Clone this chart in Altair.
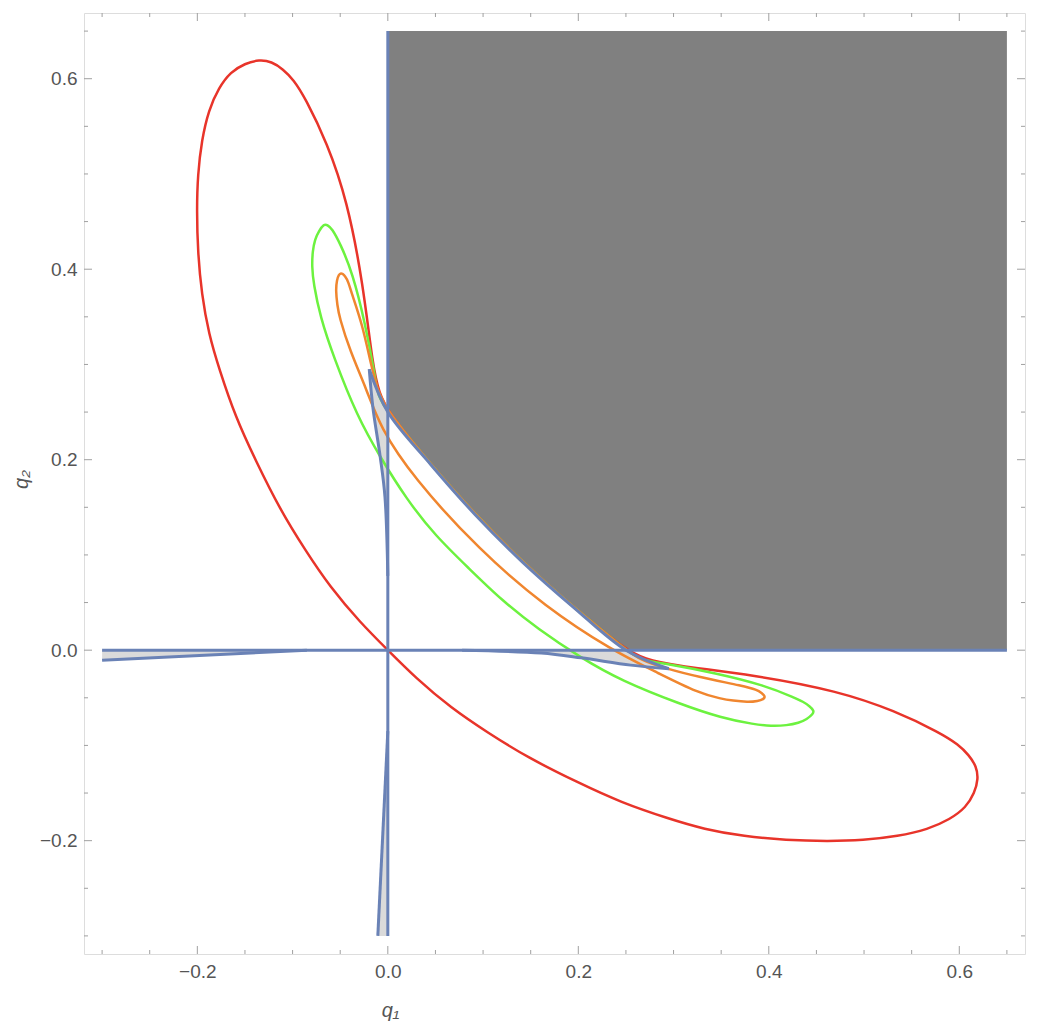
import altair as alt
import pandas as pd

# ---------------- data ----------------
# boundary of the dark region (shared by the inner arcs of the three loops)
BOUND_X = [-0.0195, 0.0, 0.045, 0.092, 0.142, 0.195, 0.25, 0.295]
BOUND_Y = [0.295, 0.25, 0.195, 0.142, 0.092, 0.045, 0.0, -0.0195]

RED_X = [0.0, -0.0293, -0.0606, -0.0867, -0.1129, -0.1390, -0.1599, -0.1770, -0.1880, -0.1955,
         -0.1995, -0.2006, -0.1996, -0.1954, -0.1881, -0.1776, -0.1651, -0.1500, -0.135, -0.1220,
         -0.1100, -0.0990, -0.0867, -0.0637, -0.0428, -0.026, -0.0157, -0.009, 0.0,
         0.045, 0.092, 0.142, 0.195, 0.25,
         0.270, 0.2973, 0.385, 0.4727, 0.5326, 0.5798, 0.5990, 0.6100, 0.6180, 0.620, 0.6160,
         0.6071, 0.5903, 0.5672, 0.5357, 0.4989, 0.4622, 0.4180, 0.3740, 0.3320, 0.2950, 0.2447,
         0.1996, 0.1471, 0.1050, 0.0662, 0.0294]
RED_Y = [0.0, 0.0294, 0.0662, 0.1050, 0.1471, 0.1996, 0.2447, 0.2950, 0.3320, 0.3740,
         0.4180, 0.4622, 0.4989, 0.5357, 0.5672, 0.5903, 0.6071, 0.6160, 0.620, 0.6180,
         0.6100, 0.5990, 0.5798, 0.5326, 0.4727, 0.385, 0.2973, 0.270, 0.25,
         0.195, 0.142, 0.092, 0.045, 0.0,
         -0.009, -0.0157, -0.026, -0.0428, -0.0637, -0.0867, -0.0990, -0.1100, -0.1220, -0.135, -0.1500,
         -0.1651, -0.1776, -0.1881, -0.1954, -0.1996, -0.2006, -0.1995, -0.1955, -0.1880, -0.1770, -0.1599,
         -0.1390, -0.1129, -0.0867, -0.0606, -0.0293]

GREEN_X = [-0.067, -0.0725, -0.0765, -0.0790, -0.0797, -0.078, -0.071, -0.057, -0.032, -0.008, 0.020,
           0.050, 0.085, 0.120, 0.158, 0.2027, 0.245, 0.308, 0.350, 0.385, 0.4026, 0.4190, 0.4315,
           0.4400, 0.4465, 0.4475, 0.443, 0.436, 0.427, 0.396, 0.344, 0.291, 0.266, 0.25, 0.195, 0.142,
           0.092, 0.045, 0.0, -0.0105, -0.014, -0.024, -0.037, -0.050, -0.0588, -0.0635]
GREEN_Y = [0.4475, 0.4400, 0.4315, 0.4190, 0.4026, 0.385, 0.350, 0.308, 0.245, 0.2027, 0.158,
           0.120, 0.086, 0.052, 0.022, -0.008, -0.032, -0.057, -0.071, -0.078, -0.0797, -0.0790, -0.0765,
           -0.0725, -0.067, -0.0635, -0.0588, -0.054, -0.050, -0.037, -0.024, -0.014, -0.0105, 0.0, 0.045, 0.092,
           0.142, 0.195, 0.25, 0.266, 0.291, 0.344, 0.396, 0.427, 0.443, 0.4465]

ORANGE_X = [-0.049, -0.0515, -0.0535, -0.0547, -0.053, -0.051, -0.040, -0.022, -0.008, 0.026, 0.096,
            0.166, 0.235, 0.284, 0.326, 0.350, 0.362, 0.378, 0.3887, 0.3945, 0.396, 0.3950, 0.393,
            0.387, 0.3747, 0.326, 0.291, 0.266, 0.25, 0.195, 0.142, 0.092, 0.045, 0.0, -0.0105,
            -0.017, -0.027, -0.038, -0.0415, -0.045, -0.0475]
ORANGE_Y = [0.396, 0.3945, 0.3887, 0.378, 0.362, 0.350, 0.315, 0.273, 0.234, 0.182, 0.105,
            0.045, 0.0, -0.024, -0.045, -0.051, -0.053, -0.0547, -0.0535, -0.0515, -0.049, -0.0475, -0.045,
            -0.0415, -0.038, -0.028, -0.019, -0.0105, 0.0, 0.045, 0.092, 0.142, 0.195, 0.25, 0.272,
            0.297, 0.343, 0.3747, 0.387, 0.393, 0.3950]

GRAY_X = [0.0, 0.0, 0.65, 0.65, 0.25, 0.195, 0.142, 0.092, 0.045]
GRAY_Y = [0.25, 0.65, 0.65, 0.0, 0.0, 0.045, 0.092, 0.142, 0.195]

WEDGE_UP_X = [0.0, 0.0, -0.0195, -0.0157, -0.008, -0.003]
WEDGE_UP_Y = [0.078, 0.25, 0.295, 0.255, 0.203, 0.161]
WEDGE_RIGHT_X = [0.078, 0.25, 0.295, 0.255, 0.203, 0.161]
WEDGE_RIGHT_Y = [0.0, 0.0, -0.0195, -0.0157, -0.008, -0.003]
WEDGE_LEFT_X = [-0.3, -0.085, -0.3]
WEDGE_LEFT_Y = [0.0, 0.0, -0.0105]
WEDGE_DOWN_X = [0.0, 0.0, -0.0105]
WEDGE_DOWN_Y = [-0.3, -0.085, -0.3]

AXH_X = [-0.3, 0.65]
AXH_Y = [0.0, 0.0]
AXV_X = [0.0, 0.0]
AXV_Y = [-0.3, 0.65]
EDGE_UP_X = [-0.0195, -0.0157, -0.008, -0.003, 0.0]
EDGE_UP_Y = [0.295, 0.255, 0.203, 0.161, 0.078]
EDGE_RIGHT_X = [0.295, 0.255, 0.203, 0.161, 0.078]
EDGE_RIGHT_Y = [-0.0195, -0.0157, -0.008, -0.003, 0.0]
EDGE_LEFT_X = [-0.3, -0.085]
EDGE_LEFT_Y = [-0.0105, 0.0]
EDGE_DOWN_X = [-0.0105, 0.0]
EDGE_DOWN_Y = [-0.3, -0.085]

MAJOR_TICKS = [-0.2, 0.0, 0.2, 0.4, 0.6]
MINOR_TICKS = [-0.3, -0.25, -0.15, -0.1, -0.05, 0.05, 0.1, 0.15, 0.25, 0.3, 0.35,
               0.45, 0.5, 0.55, 0.65]

# ---------------- build tables ----------------
def path_df(name, xs, ys):
    return pd.DataFrame({"x": xs, "y": ys, "i": list(range(len(xs))), "g": name})

curves = pd.concat([
    path_df("red", RED_X, RED_Y),
    path_df("green", GREEN_X, GREEN_Y),
    path_df("orange", ORANGE_X, ORANGE_Y),
])
gray = path_df("gray", GRAY_X, GRAY_Y)
wedges = pd.concat([
    path_df("w1", WEDGE_UP_X, WEDGE_UP_Y),
    path_df("w2", WEDGE_RIGHT_X, WEDGE_RIGHT_Y),
    path_df("w3", WEDGE_LEFT_X, WEDGE_LEFT_Y),
    path_df("w4", WEDGE_DOWN_X, WEDGE_DOWN_Y),
])
blue = pd.concat([
    path_df("b1", AXH_X, AXH_Y),
    path_df("b2", AXV_X, AXV_Y),
    path_df("b3", BOUND_X, BOUND_Y),
    path_df("b4", EDGE_UP_X, EDGE_UP_Y),
    path_df("b5", EDGE_RIGHT_X, EDGE_RIGHT_Y),
    path_df("b6", EDGE_LEFT_X, EDGE_LEFT_Y),
    path_df("b7", EDGE_DOWN_X, EDGE_DOWN_Y),
])

W = 941
H = 941
DOMAIN = [-0.319, 0.669]
FONT = "Liberation Sans"
LABEL_COLOR = "#555555"
FRAME = "#a0a0a0"

xaxis = alt.Axis(values=MAJOR_TICKS, format=".1f", ticks=False, domain=False, grid=False,
                 labelFont=FONT, labelFontSize=19, labelColor=LABEL_COLOR, labelPadding=8,
                 title="q₁", titleFont=FONT, titleFontSize=20, titleFontStyle="italic",
                 titleFontWeight="normal", titleColor=LABEL_COLOR,
                 titleX=306, titleY=56, titleBaseline="middle", titleAlign="center")
yaxis = alt.Axis(values=MAJOR_TICKS, format=".1f", ticks=False, domain=False, grid=False,
                 labelFont=FONT, labelFontSize=19, labelColor=LABEL_COLOR, labelPadding=7,
                 title="q₂", titleFont=FONT, titleFontSize=20, titleFontStyle="italic",
                 titleFontWeight="normal", titleColor=LABEL_COLOR,
                 titleX=-63, titleY=466, titleAngle=270, titleBaseline="middle", titleAlign="center")

xs = alt.Scale(domain=DOMAIN, nice=False, zero=False)
ys = alt.Scale(domain=DOMAIN, nice=False, zero=False)
X = alt.X("x:Q", scale=xs, axis=xaxis)
Y = alt.Y("y:Q", scale=ys, axis=yaxis)

gray_layer = alt.Chart(gray).mark_line(
    fill="#808080", strokeOpacity=0, interpolate="linear-closed"
).encode(x=X, y=Y, order="i:Q")

wedge_layer = alt.Chart(wedges).mark_line(
    fill="#dadada", strokeOpacity=0, interpolate="linear-closed"
).encode(x=X, y=Y, order="i:Q", detail="g:N")

curve_layer = alt.Chart(curves).mark_line(
    strokeWidth=2.5, interpolate="basis-closed"
).encode(
    x=X, y=Y, order="i:Q",
    color=alt.Color("g:N", scale=alt.Scale(domain=["red", "green", "orange"],
                                           range=["#e8342a", "#6cf23f", "#f0862f"]),
                    legend=None),
)

blue_layer = alt.Chart(blue).mark_line(
    color="#6a82b6", strokeWidth=3, interpolate="catmull-rom", tension=0.5
).encode(x=X, y=Y, order="i:Q", detail="g:N")

maj_x = pd.DataFrame({"x": MAJOR_TICKS})
min_x = pd.DataFrame({"x": MINOR_TICKS})
maj_y = pd.DataFrame({"y": MAJOR_TICKS})
min_y = pd.DataFrame({"y": MINOR_TICKS})

def xticks(df, length):
    bottom = alt.Chart(df).mark_rule(color=FRAME, strokeWidth=1).encode(
        x=X, y=alt.value(H), y2=alt.value(H - length))
    top = alt.Chart(df).mark_rule(color=FRAME, strokeWidth=1).encode(
        x=X, y=alt.value(0), y2=alt.value(length))
    return [bottom, top]

def yticks(df, length):
    left = alt.Chart(df).mark_rule(color=FRAME, strokeWidth=1).encode(
        y=Y, x=alt.value(0), x2=alt.value(length))
    right = alt.Chart(df).mark_rule(color=FRAME, strokeWidth=1).encode(
        y=Y, x=alt.value(W), x2=alt.value(W - length))
    return [left, right]

tick_layers = xticks(maj_x, 8) + xticks(min_x, 4) + yticks(maj_y, 8) + yticks(min_y, 4)

chart = alt.layer(
    gray_layer, wedge_layer, curve_layer, blue_layer, *tick_layers
).properties(
    width=W, height=H,
    autosize=alt.AutoSizeParams(type="none"),
    padding={"left": 76, "top": 5, "right": 12, "bottom": 72},
).configure_view(
    stroke=FRAME, strokeWidth=1.2
).configure(background="white")

chart.save("out.html", embed_options={"renderer": "svg", "actions": False})
